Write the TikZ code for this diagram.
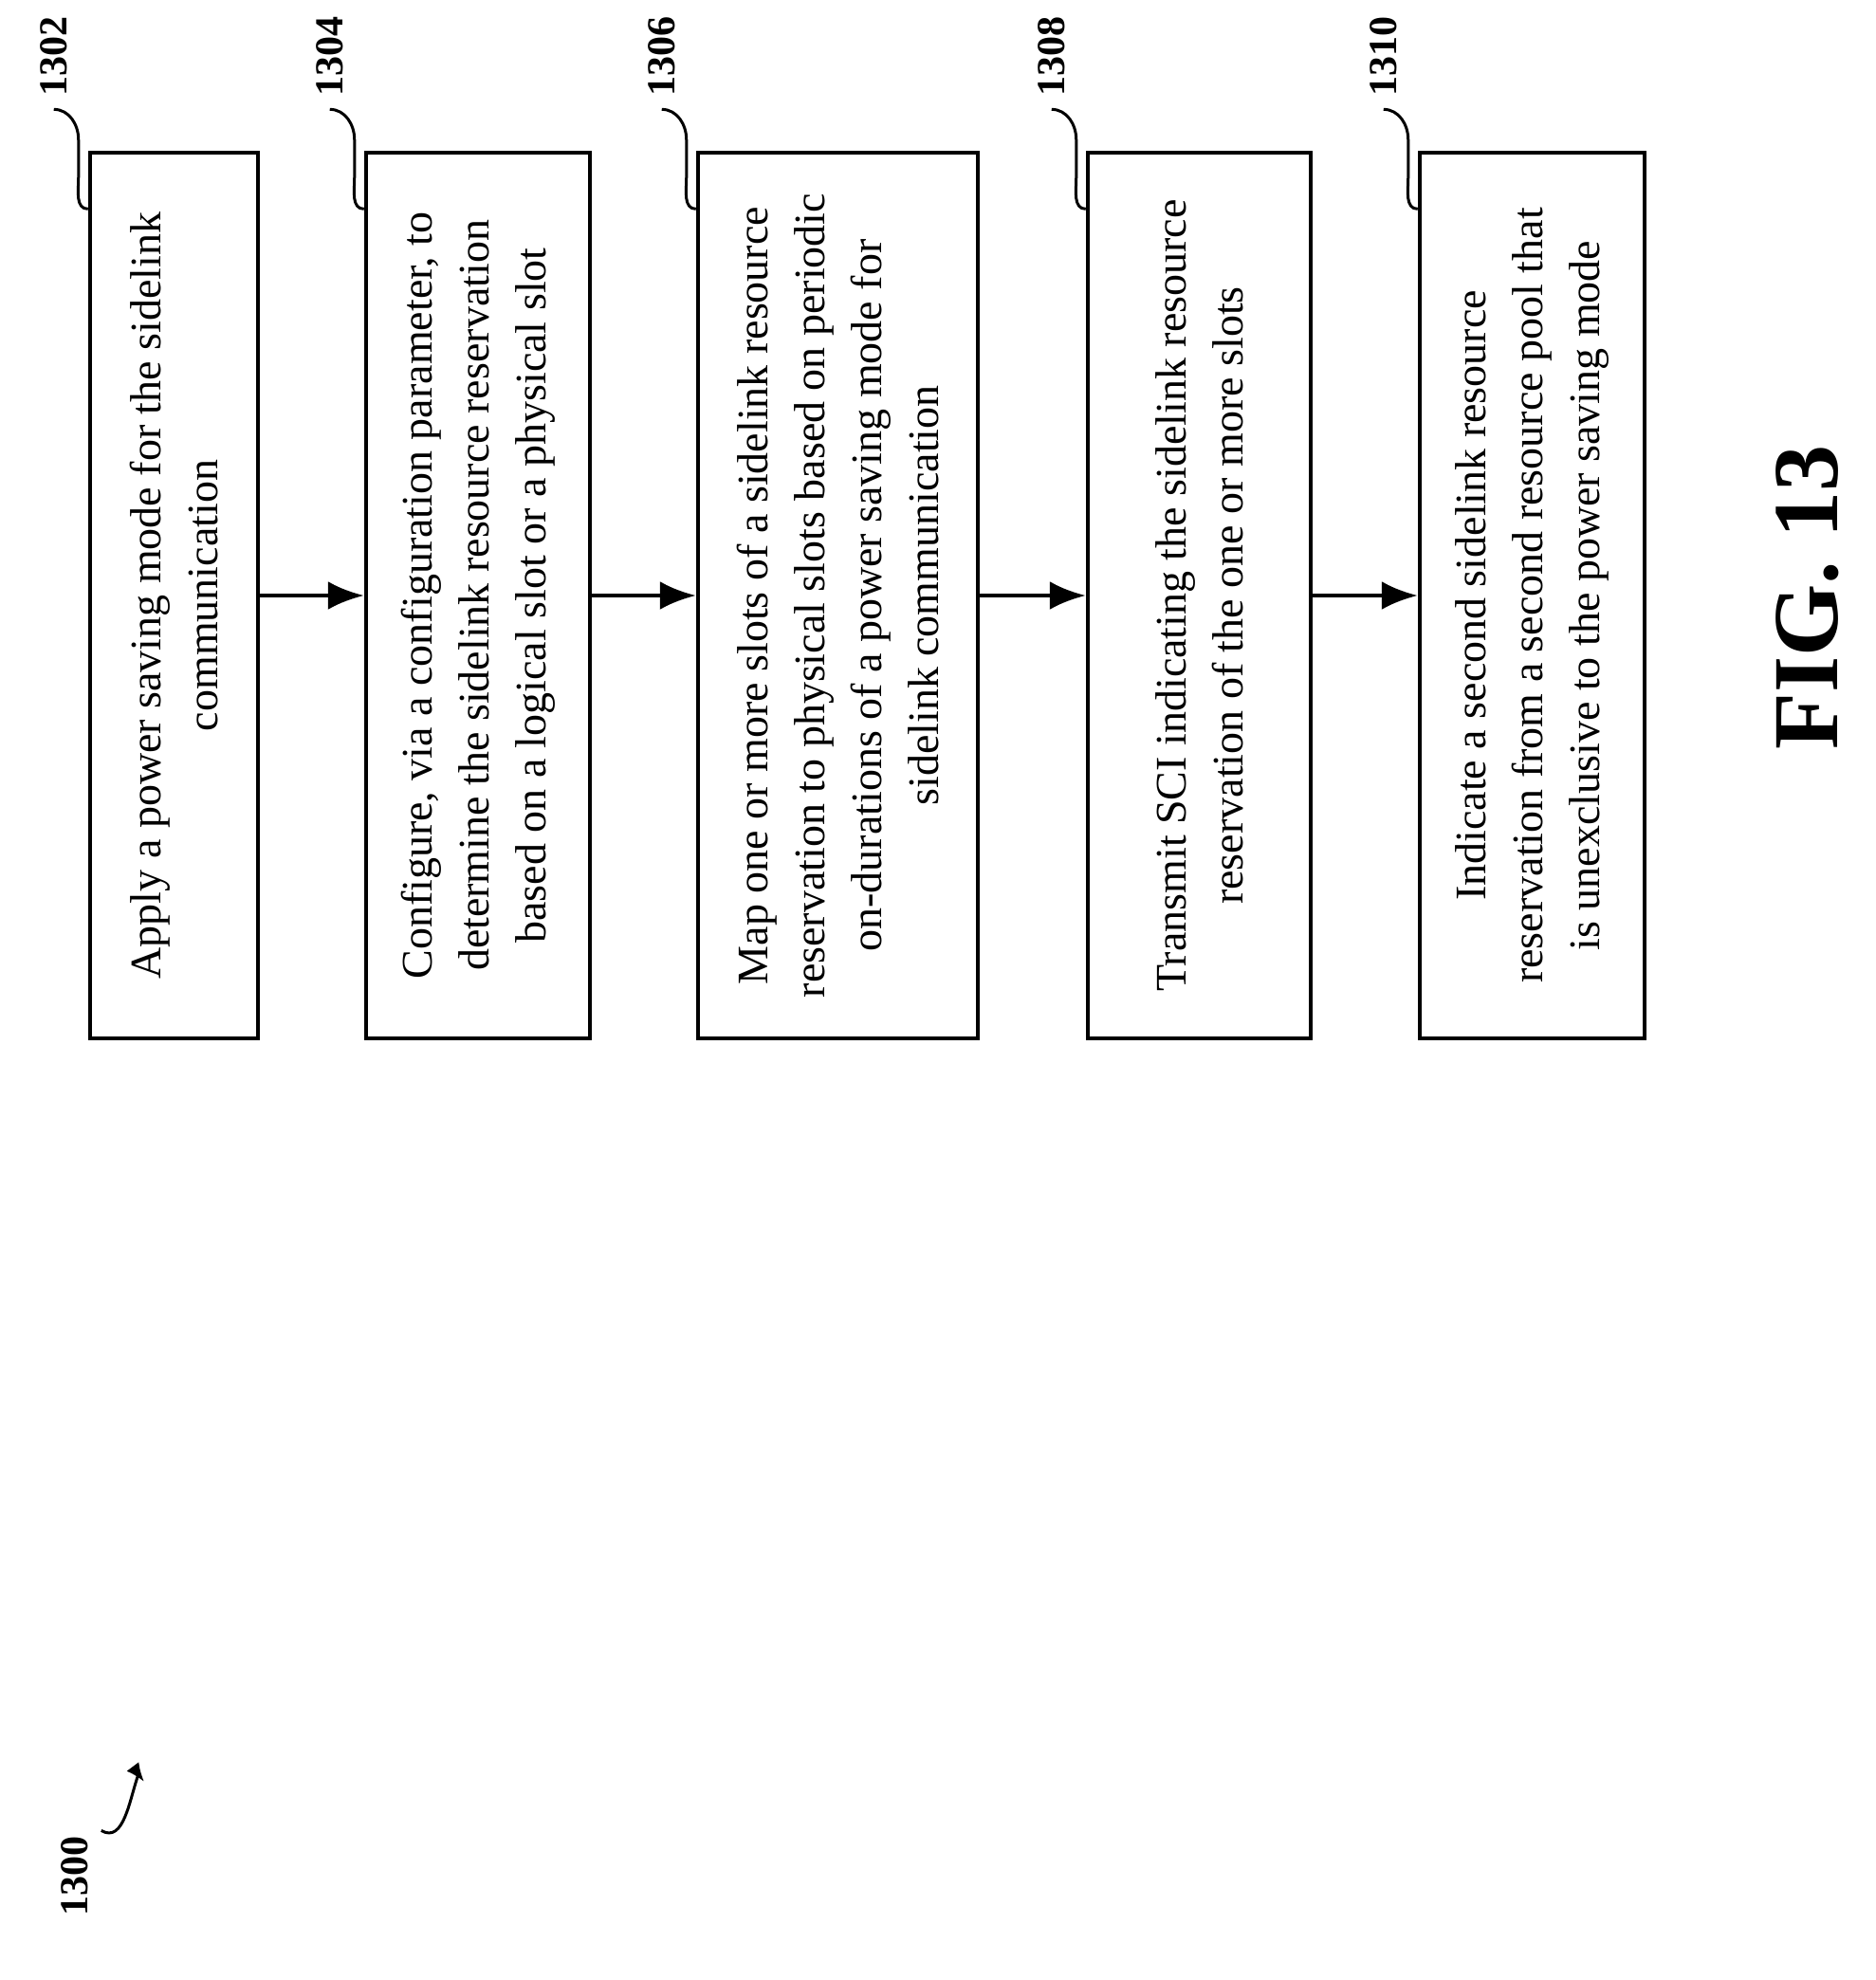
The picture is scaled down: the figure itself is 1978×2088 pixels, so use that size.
\documentclass[tikz,border=0pt]{standalone}
\usepackage{fontspec}
\setmainfont{Liberation Serif}
\usetikzlibrary{arrows.meta}
\begin{document}
\begin{tikzpicture}[x=1pt,y=-1pt,line width=4.5pt,
  flowbox/.style={draw,rectangle,rotate=90,minimum width=934pt,inner sep=0pt,align=center,font=\fontsize{46}{60}\selectfont},
  num/.style={rotate=90,font=\fontsize{42}{42}\selectfont\bfseries},
  arr/.style={-{Latex[length=38pt,width=30pt]}}]
  \useasboundingbox (0,0) rectangle (1978,2088);
  % Steps
  \node[flowbox,minimum height=177pt] (S-1) at (183.5,628) {Apply a power saving mode for the sidelink\\communication};
  \node[flowbox,minimum height=236pt] (S-2) at (504,628) {Configure, via a configuration parameter, to\\determine the sidelink resource reservation\\based on a logical slot or a physical slot};
  \node[flowbox,minimum height=295pt] (S-3) at (883.5,628) {Map one or more slots of a sidelink resource\\reservation to physical slots based on periodic\\on-durations of a power saving mode for\\sidelink communication};
  \node[flowbox,minimum height=235pt] (S-4) at (1264.5,628) {Transmit SCI indicating the sidelink resource\\reservation of the one or more slots};
  \node[flowbox,minimum height=237pt] (S-5) at (1615.5,628) {Indicate a second sidelink resource\\reservation from a second resource pool that\\is unexclusive to the power saving mode};
  % Arrows
  \foreach \a/\b in {1/2,2/3,3/4,4/5}
    \draw[arr] (S-\a.south) -- (S-\b.north);
  % Labels
  \foreach \i/\l in {1/1302,2/1304,3/1306,4/1308,5/1310} {
    \node[num] (L-\i) at ([xshift=-36pt,yshift=99pt]S-\i.north east) {\l};
    \draw[line width=3pt] ([yshift=-8pt]L-\i.west) to[out=0,in=90] ([xshift=-10pt,yshift=-40pt]L-\i.west -| S-\i.north) -- ([xshift=-10pt,yshift=-80pt]L-\i.west -| S-\i.north) to[out=-90,in=180] ([yshift=-113pt]L-\i.west -| S-\i.north);
  }
  % Figure number
  \node[num] (fig) at (79,1978) {1300};
  \coordinate (tip) at (152,1879);
  \draw[line width=3pt,-{Latex[length=20pt,width=16pt]}] ([xshift=8pt]fig.south east) to[out=-30,in=-110] ([xshift=-6pt,yshift=8pt]tip) -- (tip);
  \node[rotate=90,font=\fontsize{98}{98}\selectfont\bfseries] (title) at (1906,630) {FIG. 13};
\end{tikzpicture}
\end{document}
